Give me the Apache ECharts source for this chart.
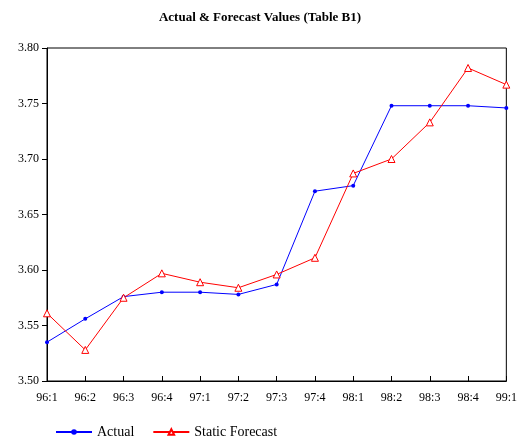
<!DOCTYPE html>
<html><head><meta charset="utf-8">
<script src="https://cdn.jsdelivr.net/npm/echarts@6/dist/echarts.min.js"></script>
</head><body style="margin:0;background:#fff">
<div id="c" style="width:520px;height:444px"></div>
<script>
const categories = ["96:1","96:2","96:3","96:4","97:1","97:2","97:3","97:4","98:1","98:2","98:3","98:4","99:1"];
const actual = [3.535,3.556,3.576,3.580,3.580,3.578,3.587,3.671,3.676,3.748,3.748,3.748,3.746];
const forecast = [3.561,3.528,3.575,3.597,3.589,3.584,3.596,3.611,3.687,3.700,3.733,3.782,3.767];
const F = "Liberation Serif";
const chart = echarts.init(document.getElementById('c'));
chart.setOption({
  animation:false,
  title:{text:"Actual & Forecast Values (Table B1)",left:'center',top:6,textStyle:{fontFamily:F,fontSize:13,fontWeight:'bold',color:'#000'}},
  grid:{left:47,right:12,top:48,bottom:63,show:true,borderColor:'#000',borderWidth:1},
  legend:{left:50,bottom:0,itemWidth:36,itemHeight:7,itemGap:18,textStyle:{fontFamily:F,fontSize:14,color:'#000'},
    data:['Actual','Static Forecast']},
  xAxis:{type:'category',data:categories,boundaryGap:false,
    axisLine:{lineStyle:{color:'#000'}},axisTick:{inside:true,lineStyle:{color:'#000'}},
    axisLabel:{fontFamily:F,fontSize:12,color:'#000',margin:11}},
  yAxis:{type:'value',min:3.50,max:3.80,interval:0.05,
    axisLine:{show:true,lineStyle:{color:'#000'}},axisTick:{show:true,lineStyle:{color:'#000'}},splitLine:{show:false},
    axisLabel:{fontFamily:F,fontSize:12,color:'#000',formatter:v=>v.toFixed(2)}},
  series:[
    {name:'Actual',type:'line',data:actual,color:'#0000ff',symbol:'circle',symbolSize:4,lineStyle:{width:1}},
    {name:'Static Forecast',type:'line',data:forecast,color:'#ff0000',symbol:'triangle',symbolSize:7,
      itemStyle:{color:'#fff',borderColor:'#ff0000',borderWidth:1},lineStyle:{width:1,color:'#ff0000'}}
  ]
});
</script></body></html>
